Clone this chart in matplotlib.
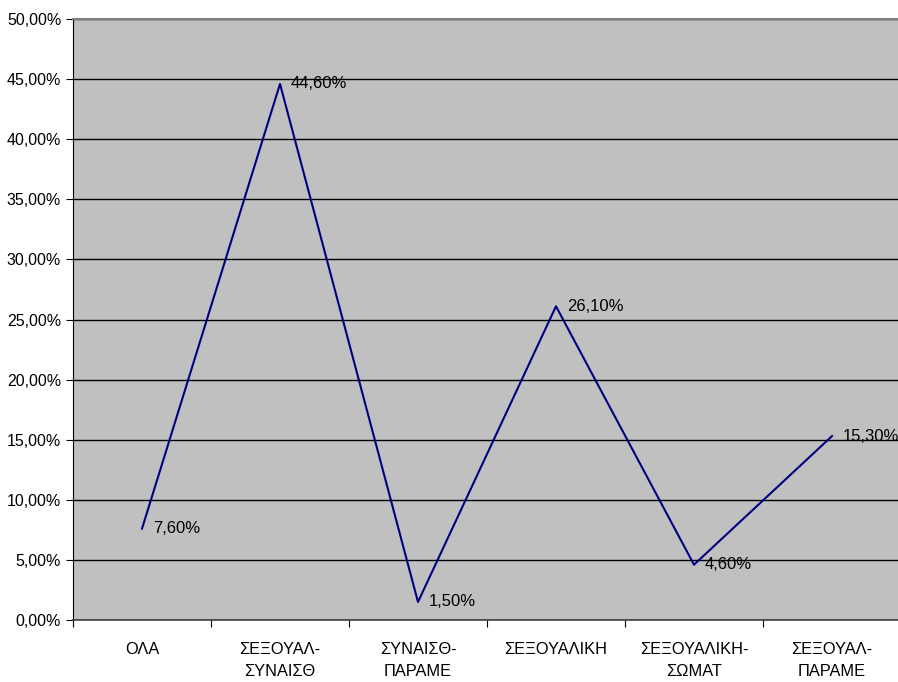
import matplotlib
matplotlib.use("Agg")
import matplotlib.pyplot as plt
from matplotlib.ticker import FixedLocator, NullFormatter

plt.rcParams['font.family'] = ['Liberation Sans', 'DejaVu Sans']

categories = ["ΟΛΑ", "ΣΕΞΟΥΑΛ-\nΣΥΝΑΙΣΘ", "ΣΥΝΑΙΣΘ-\nΠΑΡΑΜΕ", "ΣΕΞΟΥΑΛΙΚΗ", "ΣΕΞΟΥΑΛΙΚΗ-\nΣΩΜΑΤ", "ΣΕΞΟΥΑΛ-\nΠΑΡΑΜΕ"]
values = [7.60, 44.60, 1.50, 26.10, 4.60, 15.30]
yticks = [0, 5, 10, 15, 20, 25, 30, 35, 40, 45, 50]

fig = plt.figure(figsize=(8.98, 6.82), dpi=100)
ax = fig.add_axes([73/898, 1-620/682, 828/898, 601/682])
ax.set_facecolor('#C0C0C0')

xs = [i + 0.5 for i in range(len(values))]
ax.plot(xs, values, color='#000080', lw=1.5, zorder=3)
for x, v in zip(xs, values):
    ax.annotate(f"{v:.2f}%".replace('.', ','), (x, v), xytext=(8, 0),
                textcoords='offset points', ha='left', va='center', fontsize=12, color='black')

ax.set_xlim(0, 6)
ax.set_ylim(0, 50)
ax.set_yticks(yticks)
ax.set_yticklabels([f"{t:.2f}%".replace('.', ',') for t in yticks], fontsize=11.5)
ax.yaxis.grid(True, color='black', lw=1)
ax.set_axisbelow(True)

ax.xaxis.set_major_locator(FixedLocator([0, 1, 2, 3, 4, 5, 6]))
ax.xaxis.set_major_formatter(NullFormatter())
ax.xaxis.set_minor_locator(FixedLocator(xs))
ax.set_xticklabels(categories, minor=True, fontsize=11.8, linespacing=1.55)
ax.tick_params(axis='x', which='minor', length=0, pad=16)
ax.tick_params(axis='x', which='major', length=5, color='black')
ax.tick_params(axis='y', length=5, color='black')
for lbl in ax.get_xticklabels(minor=True):
    lbl.set_va('top')

ax.spines['top'].set_color('#808080')
ax.spines['top'].set_linewidth(1.5)
ax.spines['right'].set_visible(False)
ax.spines['left'].set_color('black')
ax.spines['bottom'].set_color('#404040')
ax.spines['bottom'].set_linewidth(1.2)

fig.savefig('out.png', dpi=100)
